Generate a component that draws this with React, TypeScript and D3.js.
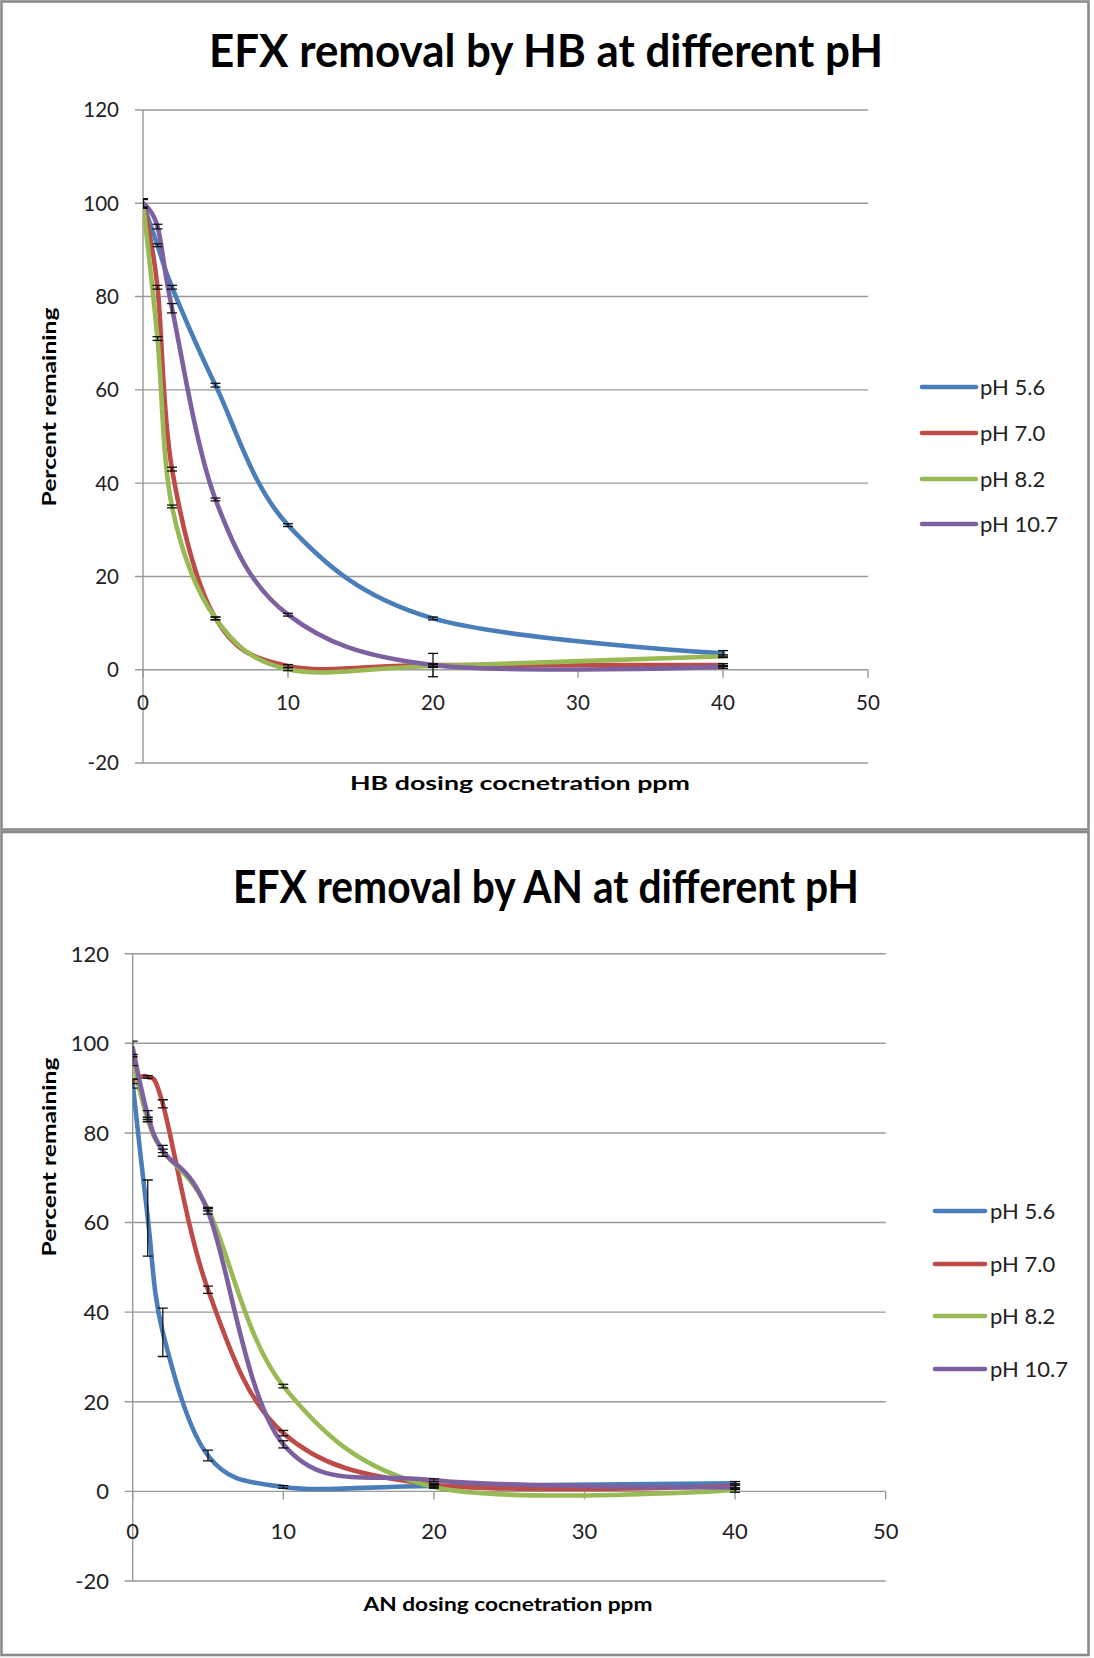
import React from "react";
import * as d3 from "d3";

// Dosing concentrations (ppm) shared by both experiments
const doses = [0, 1, 2, 5, 10, 20, 40];

const seriesNames = ["pH 5.6", "pH 7.0", "pH 8.2", "pH 10.7"];
const seriesColors = ["#4A7EBB", "#BE4B48", "#98B954", "#7D60A0"];

const xTicks = [0, 10, 20, 30, 40, 50];
const yTicks = [-20, 0, 20, 40, 60, 80, 100, 120];

// HB: percent remaining
const hbPH56 = [100, 91, 82, 61, 31, 11, 3.5];
const hbPH70 = [100, 82, 43, 11, 0.8, 1.0, 1.0];
const hbPH82 = [100, 71, 35, 11, 0.1, 0.8, 2.9];
const hbPH107 = [100, 95, 77.5, 36.5, 11.8, 1.0, 0.6];

// HB: error (±)
const hbErr56 = [1.0, 0.3, 0.4, 0.4, 0.3, 0.3, 0.6];
const hbErr70 = [1.0, 0.4, 0.4, 0.3, 0.3, 2.5, 0.3];
const hbErr82 = [0.8, 0.4, 0.3, 0.3, 0.3, 0.3, 0.3];
const hbErr107 = [1.0, 0.5, 1.0, 0.3, 0.3, 0.3, 0.3];

// AN: percent remaining
const anPH56 = [91, 61, 35.5, 8, 1.0, 1.2, 1.8];
const anPH70 = [91.5, 92.5, 86.5, 45, 13, 1.5, 1.2];
const anPH82 = [96, 83, 76, 63, 23.5, 1.0, 0.3];
const anPH107 = [99, 84, 76, 62.5, 10.5, 2.5, 0.9];

// AN: error (±)
const anErr56 = [1.0, 8.5, 5.4, 1.2, 0.3, 0.3, 0.4];
const anErr70 = [0.5, 0.3, 0.9, 0.8, 0.6, 0.3, 0.5];
const anErr82 = [1.0, 0.5, 0.4, 0.4, 0.4, 0.3, 0.5];
const anErr107 = [1.5, 1.0, 1.2, 0.6, 0.8, 0.3, 0.5];

const FONT = "Lato, 'Open Sans', sans-serif";
const GRID = "#999999";

type Panel = {
  id: string;
  title: string;
  xTitle: string;
  values: number[][];
  errors: number[][];
  frame: { y: number; h: number };
  x0: number;
  x1: number;
  yTop: number;
  yBottom: number;
  title_: { y: number; size: number; len: number };
  xTitle_: { x: number; y: number; size: number; len: number };
  yTitle_: { y: number; size: number; len: number };
  tickSize: number;
  yLabelX: number;
  xLabelY: number;
  legend: { lx0: number; lx1: number; tx: number; ys: number[]; size: number };
};

const panels: Panel[] = [
  {
    id: "hb",
    title: "EFX removal by HB at different pH",
    xTitle: "HB dosing cocnetration ppm",
    values: [hbPH56, hbPH70, hbPH82, hbPH107],
    errors: [hbErr56, hbErr70, hbErr82, hbErr107],
    frame: { y: 1.5, h: 828 },
    x0: 143,
    x1: 868,
    yTop: 110,
    yBottom: 763,
    title_: { y: 67, size: 46, len: 674 },
    xTitle_: { x: 520, y: 790, size: 19, len: 340 },
    yTitle_: { y: 407, size: 19, len: 199 },
    tickSize: 20.5,
    yLabelX: 119,
    xLabelY: 710,
    legend: { lx0: 922, lx1: 976, tx: 980, ys: [387, 433, 479, 524], size: 22 },
  },
  {
    id: "an",
    title: "EFX removal by AN at different pH",
    xTitle: "AN dosing cocnetration ppm",
    values: [anPH56, anPH70, anPH82, anPH107],
    errors: [anErr56, anErr70, anErr82, anErr107],
    frame: { y: 832, h: 823 },
    x0: 132.7,
    x1: 885.7,
    yTop: 953.7,
    yBottom: 1581,
    title_: { y: 903, size: 46, len: 626 },
    xTitle_: { x: 508, y: 1611, size: 19, len: 289 },
    yTitle_: { y: 1157, size: 19, len: 199 },
    tickSize: 22,
    yLabelX: 109,
    xLabelY: 1539,
    legend: { lx0: 935, lx1: 985, tx: 990, ys: [1211, 1264, 1316, 1369], size: 22 },
  },
];

function ChartPanel({ p }: { p: Panel }) {
  const x = d3.scaleLinear().domain([0, 50]).range([p.x0, p.x1]);
  const y = d3.scaleLinear().domain([-20, 120]).range([p.yBottom, p.yTop]);
  const line = d3
    .line<number>()
    .x((_, i) => x(doses[i]))
    .y((v) => y(v))
    .curve(d3.curveCardinal.tension(0));
  const clipId = `clip-${p.id}`;
  const cap = 5;

  return (
    <g>
      <rect x={1.5} y={p.frame.y} width={1087} height={p.frame.h} fill="#fff" stroke="#8a8a8a" strokeWidth={2.6} />
      <defs>
        <clipPath id={clipId}>
          <rect x={p.x0} y={p.yTop - 10} width={p.x1 - p.x0 + 20} height={p.yBottom - p.yTop + 20} />
        </clipPath>
      </defs>

      {/* horizontal gridlines and y tick labels */}
      {yTicks.map((t) => (
        <g key={`g${t}`}>
          {t !== 0 && (
            <line x1={p.x0 - 8} x2={p.x1} y1={y(t)} y2={y(t)} stroke={GRID} strokeWidth={1.4} />
          )}
          <text
            x={p.yLabelX}
            y={y(t)}
            dy="0.36em"
            textAnchor="end"
            fontFamily={FONT}
            fontSize={p.tickSize}
            fill="#222"
          >
            {t}
          </text>
        </g>
      ))}

      {/* vertical axis */}
      <line x1={p.x0} x2={p.x0} y1={p.yTop} y2={p.yBottom} stroke={GRID} strokeWidth={1.4} />

      {/* horizontal axis through zero */}
      <line x1={p.x0 - 8} x2={p.x1} y1={y(0)} y2={y(0)} stroke={GRID} strokeWidth={1.4} />
      {xTicks.map((t) => (
        <g key={`x${t}`}>
          <line x1={x(t)} x2={x(t)} y1={y(0)} y2={y(0) + 8} stroke={GRID} strokeWidth={1.4} />
          <text
            x={x(t)}
            y={p.xLabelY}
            textAnchor="middle"
            fontFamily={FONT}
            fontSize={p.tickSize}
            fill="#222"
          >
            {t}
          </text>
        </g>
      ))}

      {/* smoothed series lines */}
      <g clipPath={`url(#${clipId})`}>
        {p.values.map((vals, s) => (
          <path
            key={`l${s}`}
            d={line(vals) ?? ""}
            fill="none"
            stroke={seriesColors[s]}
            strokeWidth={4.6}
            strokeLinecap="round"
            strokeLinejoin="round"
          />
        ))}
        {/* error bars */}
        {p.values.map((vals, s) =>
          vals.map((v, i) => {
            const e = p.errors[s][i];
            const cx = x(doses[i]);
            const yHi = y(v + e);
            const yLo = y(v - e);
            return (
              <g key={`e${s}-${i}`} stroke="#111" strokeWidth={1.3}>
                <line x1={cx} x2={cx} y1={yHi} y2={yLo} />
                <line x1={cx - cap} x2={cx + cap} y1={yHi} y2={yHi} />
                <line x1={cx - cap} x2={cx + cap} y1={yLo} y2={yLo} />
              </g>
            );
          })
        )}
      </g>

      {/* titles */}
      <text
        x={546}
        y={p.title_.y}
        textAnchor="middle"
        fontFamily={FONT}
        fontWeight="bold"
        fontSize={p.title_.size}
        textLength={p.title_.len}
        lengthAdjust="spacingAndGlyphs"
        fill="#000"
      >
        {p.title}
      </text>
      <text
        x={p.xTitle_.x}
        y={p.xTitle_.y}
        textAnchor="middle"
        fontFamily={FONT}
        fontWeight="bold"
        fontSize={p.xTitle_.size}
        textLength={p.xTitle_.len}
        lengthAdjust="spacingAndGlyphs"
        fill="#000"
      >
        {p.xTitle}
      </text>
      <text
        transform={`translate(56,${p.yTitle_.y}) rotate(-90)`}
        textAnchor="middle"
        fontFamily={FONT}
        fontWeight="bold"
        fontSize={p.yTitle_.size}
        textLength={p.yTitle_.len}
        lengthAdjust="spacingAndGlyphs"
        fill="#000"
      >
        Percent remaining
      </text>

      {/* legend */}
      {seriesNames.map((name, s) => (
        <g key={`lg${s}`}>
          <line
            x1={p.legend.lx0}
            x2={p.legend.lx1}
            y1={p.legend.ys[s]}
            y2={p.legend.ys[s]}
            stroke={seriesColors[s]}
            strokeWidth={4.6}
            strokeLinecap="round"
          />
          <text
            x={p.legend.tx}
            y={p.legend.ys[s]}
            dy="0.36em"
            fontFamily={FONT}
            fontSize={p.legend.size}
            fill="#222"
          >
            {name}
          </text>
        </g>
      ))}
    </g>
  );
}

export default function App() {
  return (
    <svg
      width={1094}
      height={1658}
      viewBox="0 0 1094 1658"
      style={{ position: "absolute", left: 0, top: 0, background: "#fff" }}
    >
      {panels.map((p) => (
        <ChartPanel key={p.id} p={p} />
      ))}
    </svg>
  );
}
